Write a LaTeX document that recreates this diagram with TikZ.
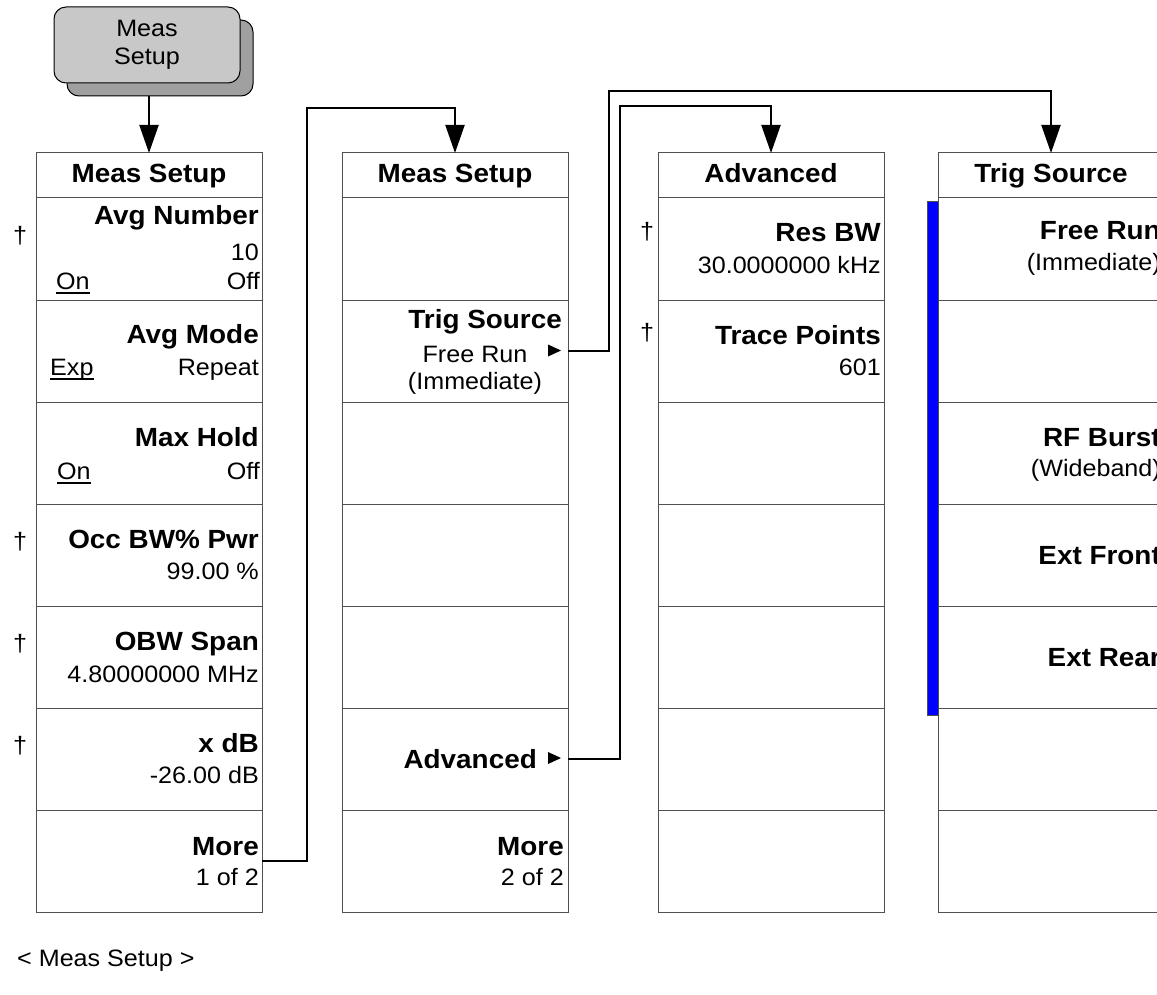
\documentclass[tikz,border=0pt]{standalone}
\usepackage{fontspec}
\setmainfont{Liberation Sans}[FakeStretch=1.06]
\usetikzlibrary{arrows.meta}
\definecolor{btnface}{HTML}{C8C8C8}
\definecolor{btnshade}{HTML}{A0A0A0}
\definecolor{boxline}{HTML}{505050}
\begin{document}
\begin{tikzpicture}[x=1pt,y=-1pt,
  box/.style={draw=boxline, line width=1pt, minimum width=226pt, minimum height=102pt, inner sep=0pt, outer sep=0pt},
  hdr/.style={box, minimum height=45pt},
  ttl/.style={inner sep=0pt, font=\fontsize{26.3}{31}\selectfont\bfseries, anchor=base east},
  htxt/.style={inner sep=0pt, font=\fontsize{26.3}{31}\selectfont\bfseries, anchor=base},
  sub/.style={inner sep=0pt, font=\fontsize{23.7}{28}\selectfont, anchor=base east},
  subw/.style={inner sep=0pt, font=\fontsize{23.7}{28}\selectfont, anchor=base west},
  subc/.style={inner sep=0pt, font=\fontsize{23.7}{28}\selectfont, anchor=base},
  dag/.style={inner sep=0pt, font=\fontsize{23.7}{28}\selectfont},
  conn/.style={line width=2pt, -{Triangle[width=19pt,length=28pt]}},
  uline/.style={line width=1.3pt},
  bluebar/.style={draw=black!70, line width=0.8pt, fill=blue},
]
\useasboundingbox (0,0) rectangle (1157,995);
\clip (0,0) rectangle (1157,995);

% ---------- hard key ----------
\node[draw=black, line width=1pt, rounded corners=12pt, fill=btnshade,
      minimum width=186pt, minimum height=76pt] (btnsh) at (160,58) {};
\node[draw=black, line width=1pt, rounded corners=12pt, fill=btnface,
      minimum width=186pt, minimum height=76pt, align=center,
      font=\fontsize{23.7}{28}\selectfont] (btn) at (147,45) {Meas\\Setup};

% ---------- column 1 ----------
\node[hdr] (c1h) at (149,175.5) {};
\node[htxt] at (149,183) {Meas Setup};
\foreach \k/\y in {1/249,2/351,3/453,4/555,5/657,6/759,7/861}
  \node[box] (c1r\k) at (149,\y) {};

\node[ttl] at (259,225) {Avg Number};
\node[sub] at (259,261) {10};
\node[subw] (on1) at (56,289) {On};
\node[sub] at (260,289) {Off};
\draw[uline] ([yshift=-4pt]on1.base west) -- ([yshift=-4pt]on1.base east);

\node[ttl] at (259,343) {Avg Mode};
\node[subw] (exp1) at (50,375) {Exp};
\node[sub] at (259,375) {Repeat};
\draw[uline] ([yshift=-4pt]exp1.base west) -- ([yshift=-4pt]exp1.base east);

\node[ttl] at (259,446) {Max Hold};
\node[subw] (on2) at (57,479) {On};
\node[sub] at (260,479) {Off};
\draw[uline] ([yshift=-4pt]on2.base west) -- ([yshift=-4pt]on2.base east);

\node[ttl] at (259,548) {Occ BW\% Pwr};
\node[sub] at (259,579) {99.00 \%};

\node[ttl] at (259,650) {OBW Span};
\node[sub] at (259,682) {4.80000000 MHz};

\node[ttl] at (259,752) {x dB};
\node[sub] at (259,783) {-26.00 dB};

\node[ttl] at (259,855) {More};
\node[sub] at (259,885) {1 of 2};

\node[dag] at (20,236) {†};
\node[dag] at (20,542) {†};
\node[dag] at (20,644) {†};
\node[dag] at (20,746) {†};

% ---------- column 2 ----------
\node[hdr] (c2h) at (455,175.5) {};
\node[htxt] at (455,183) {Meas Setup};
\foreach \k/\y in {1/249,2/351,3/453,4/555,5/657,6/759,7/861}
  \node[box] (c2r\k) at (455,\y) {};

\node[ttl] at (562,328) {Trig Source};
\node[subc] at (475,362) {Free Run};
\node[subc] at (475,389) {(Immediate)};
\fill (548,344.5) -- (561,350.5) -- (548,356.5) -- cycle;

\node[ttl] at (537,768) {Advanced};
\fill (548,752) -- (561,758) -- (548,764) -- cycle;

\node[ttl] at (564,855) {More};
\node[sub] at (564,885) {2 of 2};

% ---------- column 3 ----------
\node[hdr] (c3h) at (771,175.5) {};
\node[htxt] at (771,183) {Advanced};
\foreach \k/\y in {1/249,2/351,3/453,4/555,5/657,6/759,7/861}
  \node[box] (c3r\k) at (771,\y) {};

\node[ttl] at (881,242) {Res BW};
\node[sub] at (881,273) {30.0000000 kHz};
\node[ttl] at (881,344) {Trace Points};
\node[sub] at (881,375) {601};
\node[dag] at (647,232) {†};
\node[dag] at (647,333) {†};

% ---------- column 4 ----------
\node[hdr] (c4h) at (1051,175.5) {};
\node[htxt] at (1051,183) {Trig Source};
\foreach \k/\y in {1/249,2/351,3/453,4/555,5/657,6/759,7/861}
  \node[box] (c4r\k) at (1051,\y) {};
\draw[bluebar] (927,201) rectangle (938,715);

\node[ttl] at (1161,240) {Free Run};
\node[sub] at (1161,270) {(Immediate)};
\node[ttl] at (1161,446) {RF Burst};
\node[sub] at (1161,476) {(Wideband)};
\node[ttl] at (1161,564) {Ext Front};
\node[ttl] at (1161,666) {Ext Rear};

% ---------- connectors ----------
\coordinate (bendC) at (307,108);
\coordinate (bendA) at (609,91);
\coordinate (bendB) at (620,106);
\draw[conn] (btnsh.south -| c1h.north) -- (c1h.north);
\draw[conn] (c1r7.east) -| (bendC) -| (c2h.north);
\draw[conn] (c2r2.east) -| (bendA) -| (c4h.north);
\draw[conn] (c2r6.east) -| (bendB) -| (c3h.north);

% ---------- caption ----------
\node[subw] at (17,966) {< Meas Setup >};
\end{tikzpicture}
\end{document}
